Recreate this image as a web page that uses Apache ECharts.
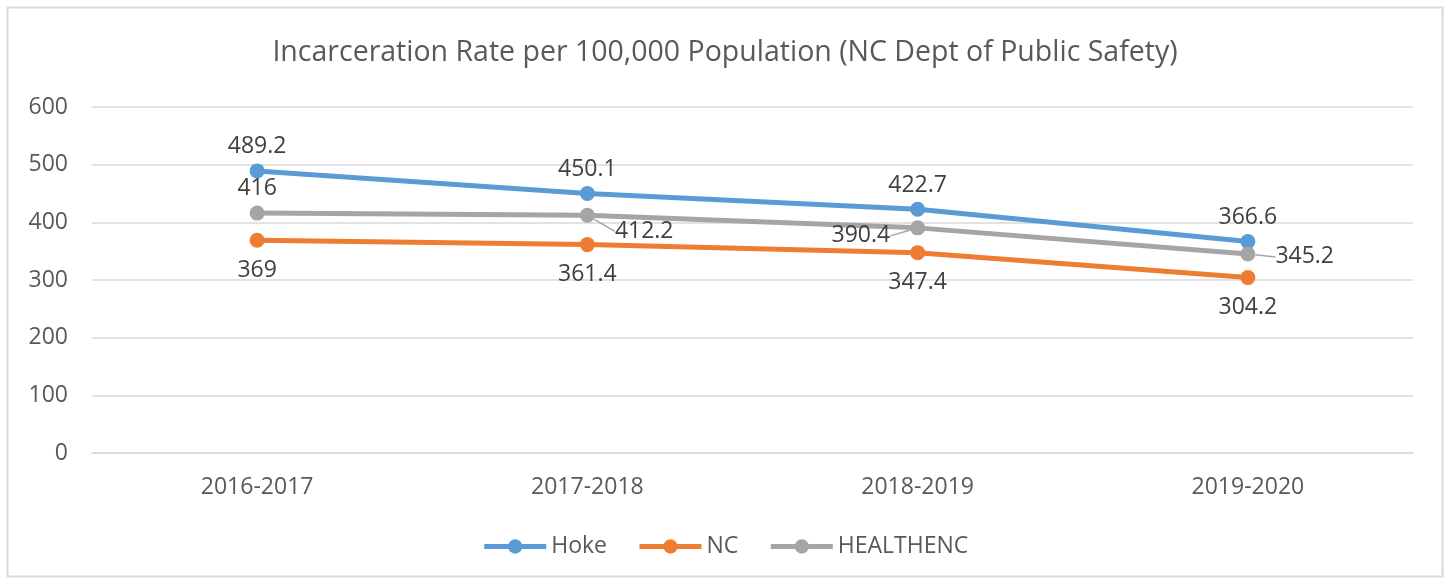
<!DOCTYPE html>
<html>
<head>
<meta charset="utf-8">
<script src="https://cdn.jsdelivr.net/npm/echarts@6/dist/echarts.min.js"></script>
<style>
  html, body { margin: 0; padding: 0; background: #fff; }
  #chart { width: 1450px; height: 584px; }
</style>
</head>
<body>
<div id="chart"></div>
<script>
// 数据
const years = ['2016-2017', '2017-2018', '2018-2019', '2019-2020']
const hoke = [489.2, 450.1, 422.7, 366.6]
const nc = [369, 361.4, 347.4, 304.2]
const healthenc = [416, 412.2, 390.4, 345.2]

const FONT = '"Open Sans", "Noto Sans", sans-serif'
const labelStyle = { color: '#404040', fontSize: 23, fontFamily: FONT }

// HEALTHENC 标签位置各不相同
const healthLabels = [
  { position: 'top', distance: 6 },
  { position: 'right', distance: 6 },
  { position: 'left', distance: 6 },
  { position: 'right', distance: 6 }
]
const healthShift = [[0, 0], [14, 16], [-14, 8], [14, 3]]

const makeSeries = (name, data, color, label) => ({
  name: name,
  type: 'line',
  data: data,
  symbol: 'circle',
  symbolSize: 15,
  lineStyle: { width: 5, color: color },
  itemStyle: { color: color },
  label: Object.assign({ show: true }, labelStyle, label)
})

const health = makeSeries('HEALTHENC', healthenc.map((v, i) => ({
  value: v,
  label: healthLabels[i],
  labelLine: { show: i > 0 }
})), '#a5a5a5', {})
health.labelLine = { show: true, lineStyle: { color: '#a5a5a5', width: 1.5 } }
health.labelLayout = (params) => ({
  dx: healthShift[params.dataIndex][0],
  dy: healthShift[params.dataIndex][1]
})

const chart = echarts.init(document.getElementById('chart'))
chart.setOption({
  animation: false,
  backgroundColor: '#fff',
  graphic: [{
    type: 'rect',
    shape: { x: 7.5, y: 7.5, width: 1435, height: 569 },
    style: { fill: 'none', stroke: '#d9d9d9', lineWidth: 2 },
    silent: true
  }],
  title: {
    text: 'Incarceration Rate per 100,000 Population (NC Dept of Public Safety)',
    left: 'center',
    top: 33,
    textStyle: { color: '#595959', fontSize: 28.5, fontWeight: 'normal', fontFamily: FONT }
  },
  legend: {
    bottom: 21,
    left: 'center',
    itemWidth: 62,
    itemHeight: 18,
    itemGap: 30,
    lineStyle: { width: 5 },
    textStyle: { color: '#595959', fontSize: 23, fontFamily: FONT },
    data: ['Hoke', 'NC', 'HEALTHENC']
  },
  grid: { left: 92, right: 37, top: 107, bottom: 131 },
  xAxis: {
    type: 'category',
    data: years,
    axisLine: { lineStyle: { color: '#d9d9d9', width: 1.5 } },
    axisTick: { show: false },
    axisLabel: { color: '#595959', fontSize: 23, fontFamily: FONT, margin: 23 }
  },
  yAxis: {
    type: 'value',
    min: 0,
    max: 600,
    interval: 100,
    axisLine: { show: false },
    axisTick: { show: false },
    axisLabel: { color: '#595959', fontSize: 23, fontFamily: FONT, margin: 24 },
    splitLine: { lineStyle: { color: '#d9d9d9', width: 1.5 } }
  },
  series: [
    makeSeries('Hoke', hoke, '#5b9bd5', { position: 'top', distance: 5 }),
    makeSeries('NC', nc, '#ed7d31', { position: 'bottom', distance: 11 }),
    health
  ]
})
</script>
</body>
</html>
